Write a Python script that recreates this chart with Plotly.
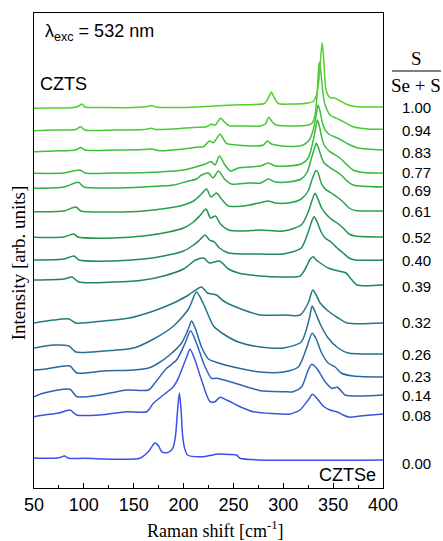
import plotly.graph_objects as go

# composition labels S/(Se+S), top to bottom
labels = ["1.00", "0.94", "0.83", "0.77", "0.69", "0.61", "0.52", "0.40",
          "0.39", "0.32", "0.26", "0.23", "0.14", "0.08", "0.00"]
# vertical stacking offsets (arb. units)
offsets = [381, 358, 338, 315, 301, 277, 251, 228, 203, 165, 134, 111, 93, 74, 28]
# label heights on the same intensity scale
label_y = [380.5, 357.5, 335.5, 315.5, 298, 277, 251, 228, 202, 165.5, 134, 111.5, 93, 73, 25]
colors = ["#52d12c", "#49c836", "#3fc23a", "#36b93e", "#2fb043", "#27a24b", "#229452",
          "#208a62", "#1f8270", "#22797f", "#25708f", "#2a689f", "#3062b8", "#3856d6", "#3d4ef0"]

# Raman shift (cm-1) and intensity above offset, per spectrum
x100 = [50, 70, 90, 95, 98, 101, 120, 150, 164, 168, 172, 200, 230, 250, 270, 281, 285, 288, 291, 295,
        310, 325, 330, 333, 335.5, 337.5, 339, 340.5, 342.5, 345, 348, 351, 357, 364, 372, 385, 400]
i100 = [-1.3, -1, -0.5, 1, 3, 0, -0.5, -0.5, 0.5, 1.5, 0, -0.5, 1, 2, 2.5, 3.5, 9, 15, 9, 3.5,
        3, 4, 5.5, 11, 25, 49, 64, 49, 19, 11.5, 9, 9.2, 6, 2.5, 0.5, 0, 0]

x094 = [50, 70, 92, 97, 101, 130, 160, 168, 172, 190, 210, 223, 228, 232, 237, 242, 246, 260, 277, 282,
        285.5, 289, 293, 310, 325, 329, 331.5, 333.5, 335, 336, 337.5, 338.5, 340, 342, 347, 357, 370, 385, 400]
i094 = [-0.7, 0, 0.5, 3.3, 0, 0, 0.5, 1.7, 0.5, 1, 2.5, 3.3, 5.7, 5, 11.7, 7, 4.3, 4, 4, 6,
        12.7, 8, 5, 4, 5, 7, 13, 30, 55, 67.5, 60, 50, 35, 25, 15, 10, 3.3, 1, 0.7]

x083 = [50, 70, 92, 97, 101, 130, 160, 168, 176, 200, 215, 220, 226, 230, 236.5, 243, 253, 273, 280, 284,
        288, 292, 310, 320, 326, 330, 333, 335, 337, 339, 342, 347, 352, 358, 365, 375, 400]
i083 = [-1.7, -1, 0, 2.5, 0, 0, 0.5, 1, -0.7, 1, 3, 3.3, 9, 7.3, 15.7, 6.7, 5, 4, 5, 9,
        6, 5, 3.5, 5, 10, 20, 35, 45, 38, 28, 20, 15, 13, 10, 6, 2, 0]

x077 = [50, 80, 96, 101, 130, 163, 200, 213, 222, 227.5, 231.5, 236, 241.5, 247, 255, 277, 285, 292, 305,
        318, 325, 329, 332, 334.2, 336, 338, 341, 346, 352, 358, 364, 370, 380, 400]
i077 = [-0.3, 0, 3, 0, 0, 0.5, 3, 6.3, 9, 11.5, 8, 17, 8, 2, 5, 7, 10, 7, 7,
        9, 15, 28, 42, 53, 48, 38, 28, 22, 18, 14, 8, 3, 0.5, 0]

x069 = [50, 80, 94.5, 100, 130, 160, 190, 205, 213, 218, 225, 229.5, 235, 241, 248, 265, 277, 285, 292,
        305, 318, 324, 328, 331, 333, 335, 337.5, 341, 346, 352, 358, 364, 370, 400]
i069 = [-1.3, 0, 4.7, 0, -1, 0, 2, 6, 8, 12, 14, 9, 16, 8, 3, 4, 4, 8, 5,
        5, 8, 15, 28, 38, 43.7, 40, 32, 24, 20, 16, 12, 6, 2, 0]

x061 = [50, 80, 92, 97, 130, 160, 185, 200, 210, 217, 223, 227.5, 233, 238, 245, 260, 277, 285, 292,
        305, 318, 325, 329, 332.8, 335, 338, 342, 348, 354, 360, 366, 372, 400]
i061 = [-0.7, 0, 4, 0, -1, 0, 3, 6, 10, 16, 22, 14, 18, 12, 5, 5, 8.3, 10, 8,
        8, 12, 20, 32, 40.5, 38, 28, 22, 18, 14, 9, 3, 0.5, 0]

x052 = [50, 80, 90, 94, 130, 160, 185, 200, 210, 217, 222.5, 227, 232, 237, 245, 260, 277, 300,
        318, 325, 329, 331.8, 334, 338, 342, 348, 354, 360, 366, 372, 400]
i052 = [-0.3, 0, 3, 0, -1, 1, 5, 9, 15, 22, 28, 19, 21, 13, 7, 6, 7, 6,
        12, 25, 37, 43.7, 40, 30, 24, 18, 14, 9, 3, 1, 0]

x040 = [50, 80, 90, 95, 130, 160, 180, 200, 210, 216, 221.5, 226, 231, 236, 245, 260, 277, 300,
        318, 325, 329, 331, 334, 338, 342, 348, 354, 360, 366, 372, 400]
i040 = [0, 1, 4, 0, -1, 1, 4, 9, 15, 20, 25, 20, 18, 12, 7, 6, 6, 6,
        12, 28, 40, 43.3, 38, 28, 22, 18, 12, 7, 2, 0, 0]

x039 = [50, 80, 88, 95, 130, 160, 180, 200, 212, 220, 226, 236, 245, 255, 277, 300, 317, 323, 327,
        330, 333, 337, 345, 355, 363, 368, 374, 400]
i039 = [5, 6, 8, 3, 3, 5, 9, 16, 25, 27, 22, 24, 16, 12, 9, 8, 9, 18, 26,
        28.3, 25, 22, 17, 14, 12, 6, 0, 0]

x032 = [50, 70, 85, 92, 120, 146, 170, 190, 196, 205, 212, 218, 224, 233, 240, 255, 277, 300, 317,
        325, 329.5, 333, 337, 345, 355, 364, 400]
i032 = [0, 3, 4, 0, 2, 5, 12, 20, 23, 28, 33, 36, 30, 28, 22, 15, 8, 8, 8,
        20, 33, 28, 20, 12, 5, 0, 0]

x026 = [50, 70, 85, 92, 120, 150, 170, 190, 205, 213, 220, 230, 240, 255, 277, 300, 318, 326, 329,
        332, 337, 345, 355, 365, 400]
i026 = [6, 9, 8, 2, 3, 6, 15, 28, 45, 62, 50, 28, 20, 12, 7, 6, 12, 35, 48,
        42, 30, 16, 6, 1, 0]

x023 = [50, 62, 86, 93, 120, 150, 165, 175, 186, 198, 204.8, 208, 212, 218, 225, 235, 250, 277, 300,
        315, 323, 329, 333, 338, 345, 352, 358, 370, 400]
i023 = [7, 8, 11, 4, 6, 7, 9, 14, 22, 34, 48, 56, 48, 30, 18, 14, 10, 5, 5,
        10, 28, 43.7, 38, 25, 14, 10, 4, 1, 0]

x014 = [50, 59, 86, 93, 116, 143, 165, 172, 183, 193, 201.5, 207, 213, 221.5, 228, 233, 246.6, 263, 277,
        300, 310, 318.5, 325, 328.5, 333.5, 342, 348.6, 354.3, 362, 377, 400]
i014 = [-1.7, 1.7, 5.7, -1.7, 0, 5, 5, 13, 26.7, 35, 51.7, 64.3, 51.7, 28.3, 16.7, 16.7, 13.3, 8.3, 4.3,
        3.3, 3.3, 8.3, 25, 30.7, 26.7, 13.3, 6.7, 7.7, 0, -1, 0]

x008 = [50, 60, 75, 86, 92.8, 116, 143, 163, 169.7, 179.7, 189.7, 194.7, 203.2, 206.5, 211.5, 218, 226.5,
        231.5, 236.6, 243, 250, 256.6, 270, 306.8, 313.5, 316.8, 325, 329.4, 335, 340, 346.8, 353.5, 360,
        366.9, 377, 400]
i008 = [-2.7, -1, 1, 4, -1, -1, 2.3, 2.3, 10.7, 19, 27.3, 35.7, 57.3, 64.7, 54, 34, 12.3,
        12.3, 16.7, 14, 10.7, 7.3, 2.3, 0, 2.3, 4, 14, 19.7, 14, 8, 4, 2.3, -1,
        -3.3, -2, 0]

x000 = [50, 70, 76, 80.4, 85, 100, 136, 156, 164.6, 171.4, 175, 178, 183, 188, 190, 192, 194, 195.8,
        197.5, 199, 201, 204, 219.8, 234.8, 245, 253, 256.6, 276.7, 400]
i000 = [2, 1.7, 2.5, 4, 1.7, 1.7, 0.7, 1.7, 8.3, 17, 14, 8.3, 7.3, 10, 14, 25, 50, 67,
        50, 25, 12, 5, 3.3, 6, 5.5, 5, 1.7, 0, 0]

xs = [x100, x094, x083, x077, x069, x061, x052, x040, x039, x032, x026, x023, x014, x008, x000]
ints = [i100, i094, i083, i077, i069, i061, i052, i040, i039, i032, i026, i023, i014, i008, i000]

fig = go.Figure()
for k in reversed(range(len(labels))):
    fig.add_trace(go.Scatter(
        x=xs[k], y=[offsets[k] + v for v in ints[k]], mode="lines",
        line=dict(color=colors[k], width=1.5, shape="spline", smoothing=0.7),
        name=labels[k], showlegend=False, hoverinfo="skip"))

sans = "Liberation Sans, Arial, sans-serif"
serif = "Liberation Serif, Times New Roman, serif"

fig.update_layout(
    width=443, height=541,
    margin=dict(l=34, r=60, t=13, b=53),
    paper_bgcolor="white", plot_bgcolor="white",
    xaxis=dict(range=[50, 400], tickvals=[50, 100, 150, 200, 250, 300, 350, 400],
               ticks="inside", ticklen=5, tickwidth=1, tickcolor="black",
               minor=dict(ticks="inside", ticklen=3, tickvals=[75, 125, 175, 225, 275, 325, 375], tickcolor="black"),
               showline=True, linecolor="black", linewidth=1, mirror=True,
               showgrid=False, zeroline=False,
               tickfont=dict(family=sans, size=18, color="black")),
    yaxis=dict(range=[0, 475], showticklabels=False, ticks="",
               showline=True, linecolor="black", linewidth=1, mirror=True,
               showgrid=False, zeroline=False),
)

ann = []
# composition labels at right
for k, lab in enumerate(labels):
    ann.append(dict(x=1.095, xref="paper", y=label_y[k], yref="y", text=lab, showarrow=False,
                    xanchor="center", yanchor="middle", font=dict(family=sans, size=15, color="black")))
ann.append(dict(x=1.095, xref="paper", y=430, yref="y", text="S", showarrow=False,
                xanchor="center", yanchor="middle", font=dict(family=serif, size=19, color="black")))
ann.append(dict(x=1.095, xref="paper", y=403, yref="y", text="Se + S", showarrow=False,
                xanchor="center", yanchor="middle", font=dict(family=serif, size=19, color="black")))
ann.append(dict(x=0.025, xref="paper", y=456, yref="y", text="λ<sub>exc</sub> = 532 nm", showarrow=False,
                xanchor="left", yanchor="middle", font=dict(family=sans, size=18, color="black")))
ann.append(dict(x=0.012, xref="paper", y=404, yref="y", text="CZTS", showarrow=False,
                xanchor="left", yanchor="middle", font=dict(family=sans, size=18, color="black")))
ann.append(dict(x=0.985, xref="paper", y=13, yref="y", text="CZTSe", showarrow=False,
                xanchor="right", yanchor="middle", font=dict(family=sans, size=18, color="black")))
ann.append(dict(x=-0.045, xref="paper", y=225, yref="y", text="Intensity [arb. units]", showarrow=False,
                textangle=-90, xanchor="center", yanchor="middle", font=dict(family=serif, size=19, color="black")))
ann.append(dict(x=0.52, xref="paper", y=-0.088, yref="paper", text="Raman shift [cm<sup>-1</sup>]", showarrow=False,
                xanchor="center", yanchor="middle", font=dict(family=serif, size=18, color="black")))
fig.update_layout(annotations=ann)
fig.add_shape(type="line", xref="paper", yref="y", x0=1.026, x1=1.166, y0=417, y1=417,
              line=dict(color="black", width=1))

fig.write_html("out.html")
